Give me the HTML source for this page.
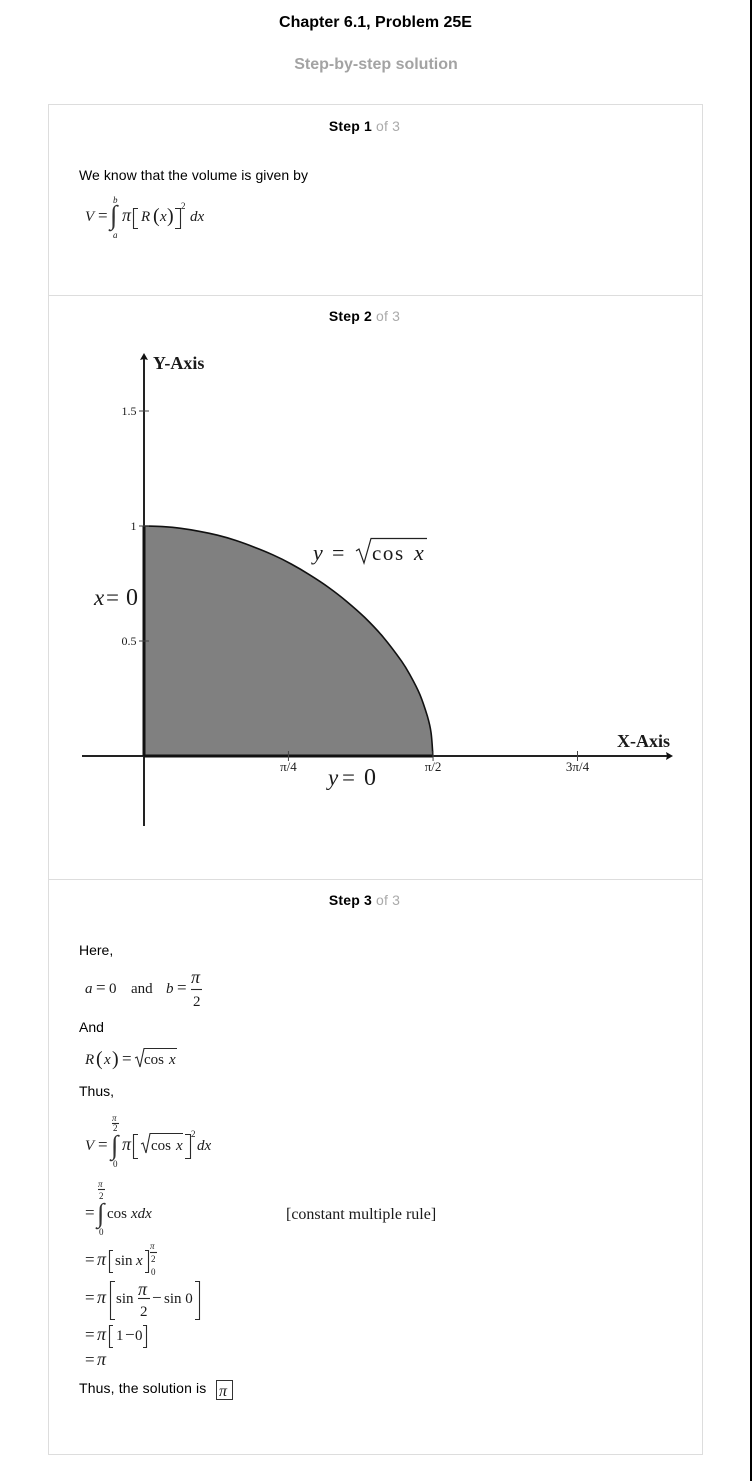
<!DOCTYPE html>
<html lang="en">
<head>
<meta charset="utf-8">
<title>Chapter 6.1, Problem 25E</title>
<style>
html,body{margin:0;padding:0;background:#fff;}
#page{position:relative;width:752px;height:1481px;overflow:hidden;background:#fff;font-family:"Liberation Sans",Arial,sans-serif;color:#000;}
.abs{position:absolute;white-space:nowrap;}
.t{font-size:14px;line-height:16px;}
.st{left:37px;width:655px;text-align:center;font-size:14px;line-height:16px;font-weight:bold;letter-spacing:.18px;}
.st span{font-weight:normal;color:#aaa;}
svg{position:absolute;left:0;top:0;}
svg text{font-family:"Liberation Serif","DejaVu Serif",serif;fill:#1a1a1a;}
.i{font-style:italic;}
.m{font-size:15px;}
.e{font-size:17px;}
.p{font-size:18px;font-style:italic;}
.s{font-size:9px;}
.in{font-size:27px;fill:#333 !important;}
.br{fill:none;stroke:#2a2a2a;stroke-width:1.1;}
</style>
</head>
<body>
<div id="page">
  <div class="abs" style="left:750px;top:0;width:2px;height:1481px;background:#000"></div>
  <div class="abs" style="left:0;width:751px;top:13px;text-align:center;font-size:16px;line-height:19px;font-weight:bold">Chapter 6.1, Problem 25E</div>
  <div class="abs" style="left:0;width:752px;top:55px;text-align:center;font-size:16px;line-height:19px;font-weight:bold;color:#a3a3a3">Step-by-step solution</div>
  <div class="abs" style="left:48px;top:104px;width:653px;height:1349px;border:1px solid #ddd"></div>
  <div class="abs" style="left:49px;top:295px;width:653px;height:1px;background:#ddd"></div>
  <div class="abs" style="left:49px;top:879px;width:653px;height:1px;background:#ddd"></div>

  <div class="abs st" style="top:118px">Step 1 <span>of 3</span></div>
  <div class="abs st" style="top:308px">Step 2 <span>of 3</span></div>
  <div class="abs st" style="top:892px">Step 3 <span>of 3</span></div>

  <div class="abs t" style="left:79px;top:167px;letter-spacing:.06px">We know that the volume is given by</div>
  <div class="abs t" style="left:79px;top:942px">Here,</div>
  <div class="abs t" style="left:79px;top:1019px">And</div>
  <div class="abs t" style="left:79px;top:1083px">Thus,</div>
  <div class="abs t" style="left:79px;top:1380px;letter-spacing:.14px">Thus, the solution is</div>

  <svg width="752" height="1481" viewBox="0 0 752 1481">
    <g>
      <text x="85" y="221" class="m i">V</text><text x="98" y="221" class="e">=</text>
      <text x="110" y="224" class="in">∫</text>
      <text x="113" y="203" class="s i">b</text><text x="113" y="238" class="s i">a</text>
      <text x="122" y="221" class="p">π</text>
      <polyline class="br" points="138,208.5 133.5,208.5 133.5,228.5 138,228.5"/>
      <text x="141" y="221" class="m i">R</text>
      <text x="153" y="222" font-size="20">(</text><text x="160" y="221" class="m i">x</text><text x="167" y="222" font-size="20">)</text>
      <polyline class="br" points="175,208.5 180.5,208.5 180.5,228.5 175,228.5"/>
      <text x="181" y="209" class="s">2</text>
      <text x="190" y="221" class="m i">dx</text>
    </g>

    <g>
      <text x="85" y="993" class="m i">a</text><text x="96" y="993" class="e">=</text><text x="109" y="993" class="m">0</text>
      <text x="131" y="993" class="m">and</text>
      <text x="166" y="993" class="m i">b</text><text x="177" y="993" class="e">=</text>
      <text x="191" y="983" class="p">π</text><line class="br" x1="191" y1="989.5" x2="202" y2="989.5"/><text x="193" y="1006" class="m">2</text>
    </g>

    <g>
      <text x="85" y="1064" class="m i">R</text>
      <text x="96" y="1065" font-size="20">(</text><text x="104" y="1064" class="m i">x</text><text x="112" y="1065" font-size="20">)</text>
      <text x="122" y="1064" class="e">=</text>
      <polyline class="br" points="135,1058 137,1057 140,1067 144,1048.5 177,1048.5"/>
      <text x="144" y="1064" class="m">cos</text><text x="169" y="1064" class="m i">x</text>
    </g>

    <g>
      <text x="85" y="1150" class="m i">V</text><text x="98" y="1150" class="e">=</text>
      <text x="111" y="1154" class="in">∫</text>
      <text x="112" y="1121" class="s i">π</text><line class="br" x1="112" y1="1123.5" x2="119" y2="1123.5"/><text x="113" y="1131" class="s">2</text><text x="113" y="1167" class="s">0</text>
      <text x="122" y="1150" class="p">π</text>
      <polyline class="br" points="138,1134.5 133.5,1134.5 133.5,1158.5 138,1158.5"/>
      <polyline class="br" points="141,1144 143,1143 146,1153 150,1133.5 183,1133.5"/>
      <text x="151" y="1150" class="m">cos</text><text x="176" y="1150" class="m i">x</text>
      <polyline class="br" points="185,1134.5 190.5,1134.5 190.5,1158.5 185,1158.5"/>
      <text x="191" y="1137" class="s">2</text>
      <text x="197" y="1150" class="m i">dx</text>
    </g>

    <g>
      <text x="85" y="1218" class="e">=</text>
      <text x="97" y="1222" class="in">∫</text>
      <text x="98" y="1187" class="s i">π</text><line class="br" x1="98" y1="1189.5" x2="105" y2="1189.5"/><text x="99" y="1199" class="s">2</text><text x="99" y="1235" class="s">0</text>
      <text x="107" y="1218" class="m">cos</text><text x="131" y="1218" class="m i">xdx</text>
      <text x="286" y="1219" font-size="16">[constant multiple rule]</text>
    </g>

    <g>
      <text x="85" y="1265" class="e">=</text><text x="97" y="1265" class="p">π</text>
      <polyline class="br" points="113,1250.5 109.5,1250.5 109.5,1272.5 113,1272.5"/>
      <text x="115" y="1265" class="m">sin</text><text x="136" y="1265" class="m i">x</text>
      <polyline class="br" points="145,1250.5 148.5,1250.5 148.5,1272.5 145,1272.5"/>
      <text x="150" y="1249" class="s i">π</text><line class="br" x1="150" y1="1252.5" x2="157" y2="1252.5"/><text x="151" y="1262" class="s">2</text><text x="151" y="1275" class="s">0</text>
    </g>

    <g>
      <text x="85" y="1303" class="e">=</text><text x="97" y="1303" class="p">π</text>
      <polyline class="br" points="115,1281.5 110.5,1281.5 110.5,1319.5 115,1319.5"/>
      <text x="116" y="1303" class="m">sin</text>
      <text x="138" y="1295" class="p">π</text><line class="br" x1="138" y1="1298.5" x2="150" y2="1298.5"/><text x="140" y="1316" class="m">2</text>
      <text x="152" y="1303" class="e">−</text>
      <text x="164" y="1303" class="m">sin 0</text>
      <polyline class="br" points="195,1281.5 199.5,1281.5 199.5,1319.5 195,1319.5"/>
    </g>

    <g>
      <text x="85" y="1340" class="e">=</text><text x="97" y="1340" class="p">π</text>
      <polyline class="br" points="113,1325.5 109.5,1325.5 109.5,1347.5 113,1347.5"/>
      <text x="116" y="1340" class="m">1</text><text x="125" y="1340" class="e">−</text><text x="135" y="1340" class="m">0</text>
      <polyline class="br" points="143,1325.5 146.5,1325.5 146.5,1347.5 143,1347.5"/>
    </g>

    <g>
      <text x="85" y="1365" class="e">=</text><text x="97" y="1365" class="p">π</text>
    </g>

    <g>
      <rect x="216.5" y="1380.5" width="16" height="19" fill="none" stroke="#333" stroke-width="1"/>
      <text x="219" y="1396" class="p" style="font-size:16px">π</text>
    </g>

    <g id="chart">
      <text x="153" y="369" font-size="18" font-weight="bold">Y-Axis</text>
      <text x="617" y="747" font-size="18" font-weight="bold">X-Axis</text>
      <g>
        <text x="313" y="560" font-size="22" class="i">y</text>
        <text x="332" y="560" font-size="22">=</text>
        <polyline fill="none" stroke="#222" stroke-width="1.2" points="356,551 359,549 364,563 371,538.5 427,538.5"/>
        <text x="372" y="560" font-size="21" letter-spacing="1.6">cos</text>
        <text x="414" y="560" font-size="22" class="i">x</text>
      </g>
      <g>
        <text x="94" y="605" font-size="23" class="i">x</text><text x="106" y="605" font-size="23">=</text><text x="126" y="605" font-size="24">0</text>
      </g>
      <g>
        <text x="328" y="785" font-size="23" class="i">y</text><text x="342" y="785" font-size="23">=</text><text x="364" y="785" font-size="24">0</text>
      </g>
    </g>
  </svg>
</div>
<script>
var curveX = [0, 0.1, 0.2, 0.3, 0.4, 0.5, 0.6, 0.7, 0.8, 0.9, 1.0, 1.1, 1.2, 1.3, 1.4, 1.45, 1.5, 1.54, 1.56, 1.57];
var curveY = [1, 0.9975, 0.99, 0.977, 0.96, 0.937, 0.908, 0.875, 0.835, 0.788, 0.735, 0.673, 0.602, 0.517, 0.412, 0.346, 0.266, 0.173, 0.103, 0];
var xTickValues = [0.785, 1.571, 2.356];
var xTickLabels = ['π/4', 'π/2', '3π/4'];
var yTickValues = [0.5, 1, 1.5];
var yTickLabels = ['0.5', '1', '1.5'];

var SVGNS = 'http://www.w3.org/2000/svg';
var chart = document.getElementById('chart');
function xs(v) { return 144 + v * 184; }
function ys(v) { return 756 - v * 230; }
function add(tag, attrs) {
  var e = document.createElementNS(SVGNS, tag);
  for (var k in attrs) { e.setAttribute(k, attrs[k]); }
  chart.appendChild(e);
  return e;
}

var pts = curveX.map(function (x, i) { return [xs(x), ys(curveY[i])]; });
var curveD = 'M' + pts[0][0].toFixed(1) + ',' + pts[0][1].toFixed(1);
for (var i = 0; i < pts.length - 1; i++) {
  var p0 = pts[Math.max(i - 1, 0)], p1 = pts[i], p2 = pts[i + 1], p3 = pts[Math.min(i + 2, pts.length - 1)];
  curveD += ' C' + (p1[0] + (p2[0] - p0[0]) / 6).toFixed(1) + ',' + (p1[1] + (p2[1] - p0[1]) / 6).toFixed(1) +
    ' ' + (p2[0] - (p3[0] - p1[0]) / 6).toFixed(1) + ',' + (p2[1] - (p3[1] - p1[1]) / 6).toFixed(1) +
    ' ' + p2[0].toFixed(1) + ',' + p2[1].toFixed(1);
}
var endX = pts[pts.length - 1][0].toFixed(1);
var areaPath = curveD + ' L' + endX + ',' + ys(0) + ' L' + xs(0) + ',' + ys(0) + ' Z';

var region = add('path', { d: areaPath, fill: '#808080', stroke: 'none' });



var curve = add('path', { d: curveD, fill: 'none', stroke: '#111', 'stroke-width': '1.6' });



var xAxis = add('line', { x1: 82, y1: 756, x2: 668, y2: 756, stroke: '#222', 'stroke-width': '2' });


var xArrow = add('path', { d: 'M673,756 L666,752 L667,756 L666,760 Z', fill: '#111' });



var yAxis = add('line', { x1: 144, y1: 826, x2: 144, y2: 358, stroke: '#222', 'stroke-width': '2' });


var yArrow = add('path', { d: 'M144,353 L140,360 L144,359 L148,360 Z', fill: '#111' });



var regionBottom = add('line', { x1: xs(0), y1: ys(0), x2: endX, y2: ys(0), stroke: '#111', 'stroke-width': '3' });


var regionLeft = add('line', { x1: xs(0), y1: ys(curveY[0]), x2: xs(0), y2: ys(0), stroke: '#111', 'stroke-width': '3' });



xTickValues.forEach(function (v, i) {
  var tick = add('line', { x1: xs(v), y1: 751, x2: xs(v), y2: 761, stroke: '#444', 'stroke-width': '1' });
  
  
  var lab = add('text', { x: xs(v), y: 771, 'font-size': '13', 'text-anchor': 'middle' });
  
  
  lab.textContent = xTickLabels[i];
});

yTickValues.forEach(function (v, i) {
  var tick = add('line', { x1: 139, y1: ys(v), x2: 149, y2: ys(v), stroke: '#444', 'stroke-width': '1' });
  
  
  var lab = add('text', { x: 136.5, y: ys(v) + 4, 'font-size': '12', 'text-anchor': 'end' });
  
  
  lab.textContent = yTickLabels[i];
});
</script>
</body>
</html>
